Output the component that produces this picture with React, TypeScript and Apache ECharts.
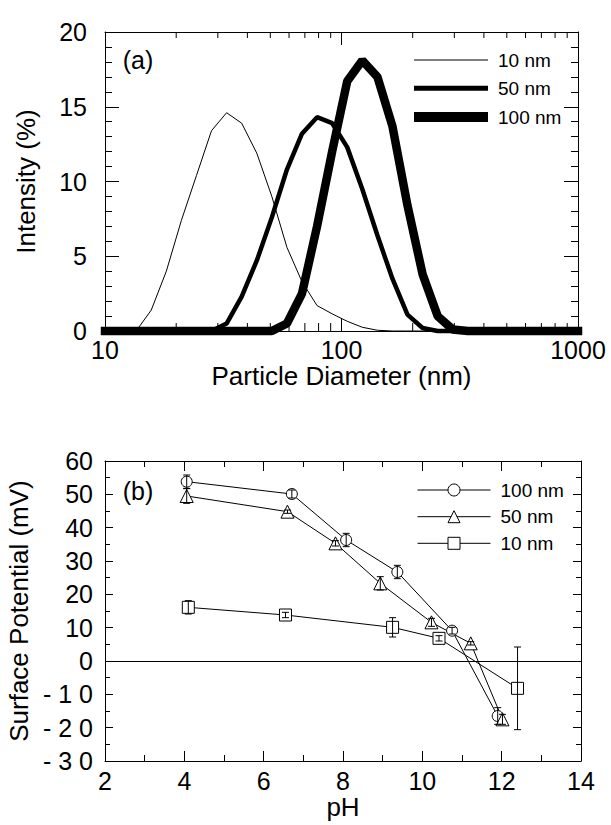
import React, { useEffect, useRef } from "react";
import * as echarts from "echarts";

const FONT = '"Liberation Sans", Arial, Helvetica, sans-serif';

// ---- Panel (a): particle size distribution ----
const particleDiameters = [
  10, 11.7, 13.54, 15.69, 18.17, 21.04, 24.36, 28.21, 32.67, 37.84, 43.82, 50.75,
  58.77, 68.06, 78.82, 91.28, 105.7, 122.4, 141.8, 164.2, 190.1, 220.2, 255.0,
  295.3, 342.0, 396.1, 458.7, 531.2, 615.1, 712.4, 825.0, 1000,
];
const intensity10nm = [
  0, 0, 0, 1.4, 4.0, 7.4, 10.4, 13.4, 14.6, 13.9, 11.9, 9.0, 5.6, 3.3, 1.7, 1.15,
  0.65, 0.25, 0.05, 0, 0, 0, 0, 0, 0, 0, 0, 0, 0, 0, 0, 0,
];
const intensity50nm = [
  0, 0, 0, 0, 0, 0, 0, 0, 0.5, 2.3, 4.7, 7.6, 10.8, 13.2, 14.3, 13.9, 12.3, 9.5,
  6.4, 3.5, 1.1, 0.2, 0, 0, 0, 0, 0, 0, 0, 0, 0, 0,
];
const intensity100nm = [
  0, 0, 0, 0, 0, 0, 0, 0, 0, 0, 0, 0, 0.5, 2.5, 7.0, 12.0, 16.7, 18.1, 17.0, 13.7,
  8.4, 3.8, 1.0, 0.1, 0, 0, 0, 0, 0, 0, 0, 0,
];
const logMinorTicks = [20, 30, 40, 50, 60, 70, 80, 90, 200, 300, 400, 500, 600, 700, 800, 900];

// ---- Panel (b): surface potential vs pH ----
const pH100 = [4.06, 6.71, 8.08, 9.37, 10.75, 11.9];
const potential100 = [53.8, 50.1, 36.3, 26.7, 9.1, -16.5];
const error100 = [2.0, 1.2, 2.0, 2.0, 1.0, 2.5];

const pH50 = [4.06, 6.6, 7.81, 8.94, 10.23, 11.22, 12.02];
const potential50 = [49.5, 44.8, 35.3, 23.3, 11.6, 5.3, -17.5];
const error50 = [2.2, 0.5, 0.8, 2.0, 1.2, 0.5, 1.5];

const pH10 = [4.1, 6.55, 9.25, 10.42, 12.4];
const potential10 = [16.1, 13.8, 10.1, 6.8, -8.2];
const error10 = [2.0, 0.8, 2.9, 0.8, 12.4];

const legendLabels: Record<string, string> = {
  a10: "10 nm",
  a50: "50 nm",
  a100: "100 nm",
  b100: "100 nm",
  b50: "50 nm",
  b10: "10 nm",
};

const BLACK = "#000";

function pairs(xs: number[], ys: number[]) {
  return xs.map((x, i) => [x, ys[i]]);
}
function triples(xs: number[], ys: number[], es: number[]) {
  return xs.map((x, i) => [x, ys[i], es[i]]);
}

const errorBarRender = (params: any, api: any) => {
  const x = api.value(0);
  const y = api.value(1);
  const e = api.value(2);
  const top = api.coord([x, y + e]);
  const bot = api.coord([x, y - e]);
  const hw = 3.5;
  const st = { stroke: BLACK, lineWidth: 1 };
  return {
    type: "group",
    children: [
      { type: "line", shape: { x1: top[0], y1: top[1], x2: bot[0], y2: bot[1] }, style: st },
      { type: "line", shape: { x1: top[0] - hw, y1: top[1], x2: top[0] + hw, y2: top[1] }, style: st },
      { type: "line", shape: { x1: bot[0] - hw, y1: bot[1], x2: bot[0] + hw, y2: bot[1] }, style: st },
    ],
  };
};

const logMinorTickRender = (params: any, api: any) => {
  const cs = params.coordSys;
  const p = api.coord([api.value(0), 1]);
  const len = 8;
  const st = { stroke: BLACK, lineWidth: 1 };
  return {
    type: "group",
    children: [
      { type: "line", shape: { x1: p[0], y1: cs.y + cs.height, x2: p[0], y2: cs.y + cs.height - len }, style: st },
      { type: "line", shape: { x1: p[0], y1: cs.y, x2: p[0], y2: cs.y + len - 2 }, style: st },
    ],
  };
};

const axisLineStyle = { show: true, onZero: false, lineStyle: { color: BLACK, width: 1 } };
const labelStyle = { fontFamily: FONT, fontSize: 25, color: BLACK };
const nameStyle = { fontFamily: FONT, fontSize: 26, color: BLACK };

function legendItem(name: string, left: number, top: number, itemWidth: number, itemHeight: number, icon?: string) {
  const l: any = {
    data: [name],
    left,
    top,
    orient: "vertical",
    padding: 0,
    itemWidth,
    itemHeight,
    selectedMode: false,
    formatter: (n: string) => legendLabels[n],
    textStyle: { fontFamily: FONT, fontSize: 19, color: BLACK, lineHeight: 20, padding: [0, 0, 0, 5] },
    lineStyle: { width: 1, color: BLACK },
    itemStyle: { borderWidth: icon ? 0 : 1 },
  };
  if (icon) l.icon = icon;
  return l;
}

export default function App() {
  const ref = useRef<HTMLDivElement>(null);

  useEffect(() => {
    if (!ref.current) return;
    const chart = echarts.init(ref.current, null, { renderer: "svg" });

    const option: any = {
      animation: false,
      backgroundColor: "#fff",
      grid: [
        { left: 105, top: 32, width: 473, height: 299, outerBoundsMode: "none", containLabel: false },
        { left: 105, top: 461, width: 476, height: 300, outerBoundsMode: "none", containLabel: false },
      ],
      xAxis: [
        {
          type: "log",
          logBase: 10,
          gridIndex: 0,
          min: 10,
          max: 1000,
          position: "bottom",
          axisLine: axisLineStyle,
          axisTick: { show: true, inside: true, length: 13, lineStyle: { color: BLACK } },
          minorTick: { show: false },
          splitLine: { show: false },
          axisLabel: {
            ...labelStyle,
            margin: 6,
            showMinLabel: true,
            showMaxLabel: true,
            formatter: (v: number) => String(Math.round(v)),
          },
          name: "Particle Diameter (nm)",
          nameLocation: "middle",
          nameGap: 18,
          nameTextStyle: nameStyle,
        },
        {
          type: "log",
          logBase: 10,
          gridIndex: 0,
          min: 10,
          max: 1000,
          position: "top",
          axisLine: axisLineStyle,
          axisTick: { show: true, inside: true, length: 13, lineStyle: { color: BLACK } },
          minorTick: { show: false },
          splitLine: { show: false },
          axisLabel: { show: false },
        },
        {
          type: "value",
          gridIndex: 1,
          min: 2,
          max: 14,
          interval: 2,
          position: "bottom",
          axisLine: axisLineStyle,
          axisTick: { show: true, inside: true, length: 10, lineStyle: { color: BLACK } },
          minorTick: { show: true, splitNumber: 2, length: 6, lineStyle: { color: BLACK } },
          splitLine: { show: false },
          axisLabel: { ...labelStyle, margin: 7, showMinLabel: true, showMaxLabel: true },
          name: "pH",
          nameLocation: "middle",
          nameGap: 26,
          nameTextStyle: nameStyle,
        },
        {
          type: "value",
          gridIndex: 1,
          min: 2,
          max: 14,
          interval: 2,
          position: "top",
          axisLine: axisLineStyle,
          axisTick: { show: true, inside: true, length: 10, lineStyle: { color: BLACK } },
          minorTick: { show: true, splitNumber: 2, length: 6, lineStyle: { color: BLACK } },
          splitLine: { show: false },
          axisLabel: { show: false },
        },
      ],
      yAxis: [
        {
          type: "value",
          gridIndex: 0,
          min: 0,
          max: 20,
          interval: 5,
          position: "left",
          axisLine: axisLineStyle,
          axisTick: { show: true, inside: true, length: 14, lineStyle: { color: BLACK } },
          minorTick: { show: true, splitNumber: 5, length: 7, lineStyle: { color: BLACK } },
          splitLine: { show: false },
          axisLabel: { ...labelStyle, margin: 18, padding: [0, 0, 8, 0] },
          name: "Intensity (%)",
          nameLocation: "middle",
          nameGap: 66,
          nameTextStyle: nameStyle,
        },
        {
          type: "value",
          gridIndex: 0,
          min: 0,
          max: 20,
          interval: 5,
          position: "right",
          axisLine: axisLineStyle,
          axisTick: { show: true, inside: true, length: 14, lineStyle: { color: BLACK } },
          minorTick: { show: true, splitNumber: 5, length: 7, lineStyle: { color: BLACK } },
          splitLine: { show: false },
          axisLabel: { show: false },
        },
        {
          type: "value",
          gridIndex: 1,
          min: -30,
          max: 60,
          interval: 10,
          position: "left",
          axisLine: axisLineStyle,
          axisTick: { show: true, inside: true, length: 8, lineStyle: { color: BLACK } },
          minorTick: { show: true, splitNumber: 2, length: 5, lineStyle: { color: BLACK } },
          splitLine: { show: false },
          axisLabel: {
            ...labelStyle,
            margin: 12,
            formatter: (v: number) =>
              v < 0 ? "- " + String(Math.abs(v)).split("").join(" ") : String(v),
          },
          name: "Surface Potential (mV)",
          nameLocation: "middle",
          nameGap: 62,
          nameTextStyle: nameStyle,
        },
        {
          type: "value",
          gridIndex: 1,
          min: -30,
          max: 60,
          interval: 10,
          position: "right",
          axisLine: axisLineStyle,
          axisTick: { show: true, inside: true, length: 8, lineStyle: { color: BLACK } },
          minorTick: { show: true, splitNumber: 2, length: 5, lineStyle: { color: BLACK } },
          splitLine: { show: false },
          axisLabel: { show: false },
        },
      ],
      legend: [
        legendItem("a10", 414, 50, 74, 1, "rect"),
        legendItem("a50", 414, 78.3, 74, 5, "rect"),
        legendItem("a100", 414, 107, 74, 10, "rect"),
        legendItem("b100", 417, 480, 73, 15),
        legendItem("b50", 417, 506.7, 73, 15),
        legendItem("b10", 417, 533.3, 73, 15),
      ],
      graphic: [
        {
          type: "text",
          x: 138,
          y: 60,
          style: { text: "(a)", fontFamily: FONT, fontSize: 25, fill: BLACK, align: "center", verticalAlign: "middle" },
        },
        {
          type: "text",
          x: 138,
          y: 490.5,
          style: { text: "(b)", fontFamily: FONT, fontSize: 25, fill: BLACK, align: "center", verticalAlign: "middle" },
        },
      ],
      series: [
        {
          name: "a10",
          type: "line",
          xAxisIndex: 0,
          yAxisIndex: 0,
          data: pairs(particleDiameters, intensity10nm),
          symbol: "none",
          clip: false,
          itemStyle: { color: BLACK },
          lineStyle: { color: BLACK, width: 1, cap: "square" },
        },
        {
          name: "a50",
          type: "line",
          xAxisIndex: 0,
          yAxisIndex: 0,
          data: pairs(particleDiameters, intensity50nm),
          symbol: "none",
          clip: false,
          itemStyle: { color: BLACK },
          lineStyle: { color: BLACK, width: 4.5, cap: "square" },
        },
        {
          name: "a100",
          type: "line",
          xAxisIndex: 0,
          yAxisIndex: 0,
          data: pairs(particleDiameters, intensity100nm),
          symbol: "none",
          clip: false,
          itemStyle: { color: BLACK },
          lineStyle: { color: BLACK, width: 8.5, cap: "square" },
        },
        {
          name: "logMinorTicks",
          type: "custom",
          xAxisIndex: 0,
          yAxisIndex: 0,
          data: logMinorTicks.map((v) => [v, 1]),
          renderItem: logMinorTickRender,
          silent: true,
          z: 1,
        },
        {
          name: "b100",
          type: "line",
          xAxisIndex: 2,
          yAxisIndex: 2,
          data: pairs(pH100, potential100),
          symbol: "circle",
          symbolSize: 11,
          itemStyle: { color: "#fff", borderColor: BLACK, borderWidth: 1 },
          lineStyle: { color: BLACK, width: 1 },
        },
        {
          name: "b50",
          type: "line",
          xAxisIndex: 2,
          yAxisIndex: 2,
          data: pairs(pH50, potential50),
          symbol: "triangle",
          symbolSize: 13,
          itemStyle: { color: "#fff", borderColor: BLACK, borderWidth: 1 },
          lineStyle: { color: BLACK, width: 1 },
        },
        {
          name: "b10",
          type: "line",
          xAxisIndex: 2,
          yAxisIndex: 2,
          data: pairs(pH10, potential10),
          symbol: "rect",
          symbolSize: 12,
          itemStyle: { color: "#fff", borderColor: BLACK, borderWidth: 1 },
          lineStyle: { color: BLACK, width: 1 },
          markLine: {
            silent: true,
            symbol: ["none", "none"],
            label: { show: false },
            lineStyle: { color: BLACK, width: 1, type: "solid" },
            data: [{ yAxis: 0 }],
          },
        },
        {
          name: "err100",
          type: "custom",
          xAxisIndex: 2,
          yAxisIndex: 2,
          data: triples(pH100, potential100, error100),
          renderItem: errorBarRender,
          z: 5,
        },
        {
          name: "err50",
          type: "custom",
          xAxisIndex: 2,
          yAxisIndex: 2,
          data: triples(pH50, potential50, error50),
          renderItem: errorBarRender,
          z: 5,
        },
        {
          name: "err10",
          type: "custom",
          xAxisIndex: 2,
          yAxisIndex: 2,
          data: triples(pH10, potential10, error10),
          renderItem: errorBarRender,
          z: 5,
        },
      ],
    };

    chart.setOption(option);
    return () => {
      chart.dispose();
    };
  }, []);

  return (
    <div
      ref={ref}
      style={{ position: "absolute", left: 0, top: 0, width: 611, height: 825, background: "#fff" }}
    />
  );
}
